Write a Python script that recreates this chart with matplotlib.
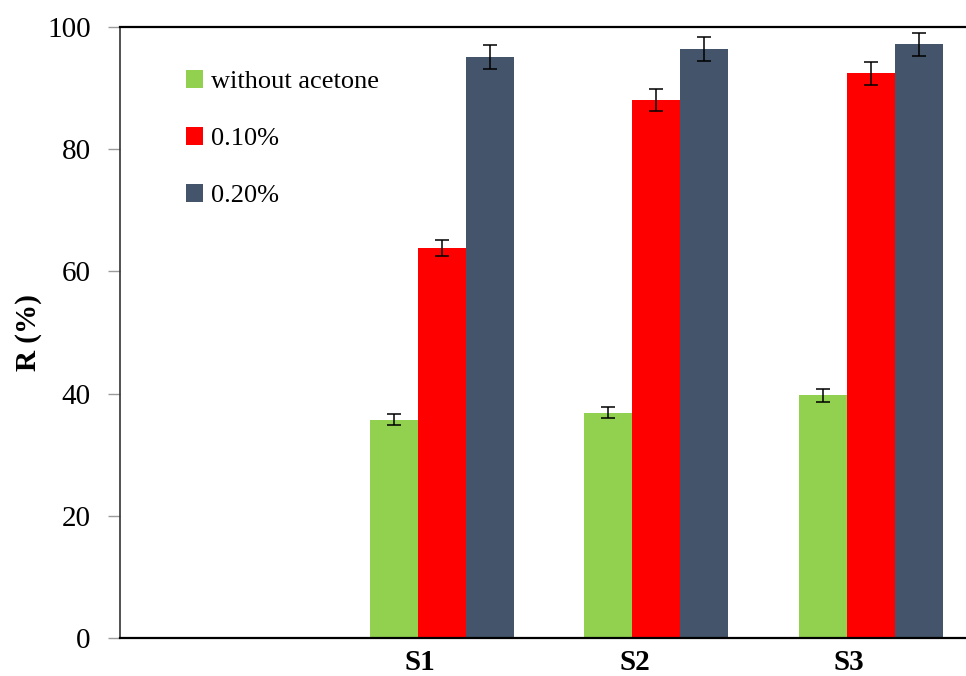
import matplotlib
matplotlib.use("Agg")
import matplotlib.pyplot as plt
import numpy as np

# data (first category slot is empty)
categories = ["", "S1", "S2", "S3"]
series = ["without acetone", "0.10%", "0.20%"]
no_acetone = [np.nan, 35.7, 36.9, 39.7]
no_acetone_err = [np.nan, 0.9, 0.9, 1.1]
acetone_010 = [np.nan, 63.9, 88.1, 92.4]
acetone_010_err = [np.nan, 1.3, 1.8, 1.9]
acetone_020 = [np.nan, 95.1, 96.4, 97.2]
acetone_020_err = [np.nan, 2.0, 1.9, 1.9]

colors = ["#92D050", "#FF0000", "#44546A"]

plt.rcParams["font.family"] = ["Liberation Serif", "DejaVu Serif"]

fig = plt.figure(figsize=(9.66, 6.76), dpi=100)
ax = fig.add_axes([0.1242, 0.0562, 0.8758, 0.9038])

x = np.arange(len(categories))
w = 0.224
vals = [no_acetone, acetone_010, acetone_020]
errs = [no_acetone_err, acetone_010_err, acetone_020_err]
for i, (v, e, c, lab) in enumerate(zip(vals, errs, colors, series)):
    ax.bar(x + (i - 1) * w, v, width=w, color=c, label=lab, zorder=2)
    ax.errorbar(x + (i - 1) * w, v, yerr=e, fmt="none", ecolor="black",
                elinewidth=1.1, capsize=5, capthick=1.1, zorder=3)

ax.set_xlim(-0.5, 3.445)
ax.set_ylim(0, 100)
ax.set_yticks(np.arange(0, 101, 20))
ax.tick_params(axis="y", labelsize=21, length=9, width=1, color="#9a9a9a",
               pad=12, direction="out")
ax.set_xticks(x - 0.1)
ax.set_xticklabels(categories, fontsize=21, fontweight="bold")
ax.tick_params(axis="x", length=0, pad=8)

ax.set_ylabel("R (%)", fontsize=21, fontweight="bold", labelpad=4)

ax.spines["right"].set_visible(False)
ax.spines["top"].set_linewidth(1.6)
ax.spines["bottom"].set_linewidth(1.6)
ax.spines["left"].set_linewidth(1.2)
ax.spines["left"].set_color("#333333")

leg = ax.legend(loc="upper left", bbox_to_anchor=(0.065, 0.9465),
                frameon=False, fontsize=19, handlelength=0.65,
                handleheight=0.65, handletextpad=0.3, labelspacing=1.28,
                borderaxespad=0)

fig.savefig("out.png", dpi=100)
